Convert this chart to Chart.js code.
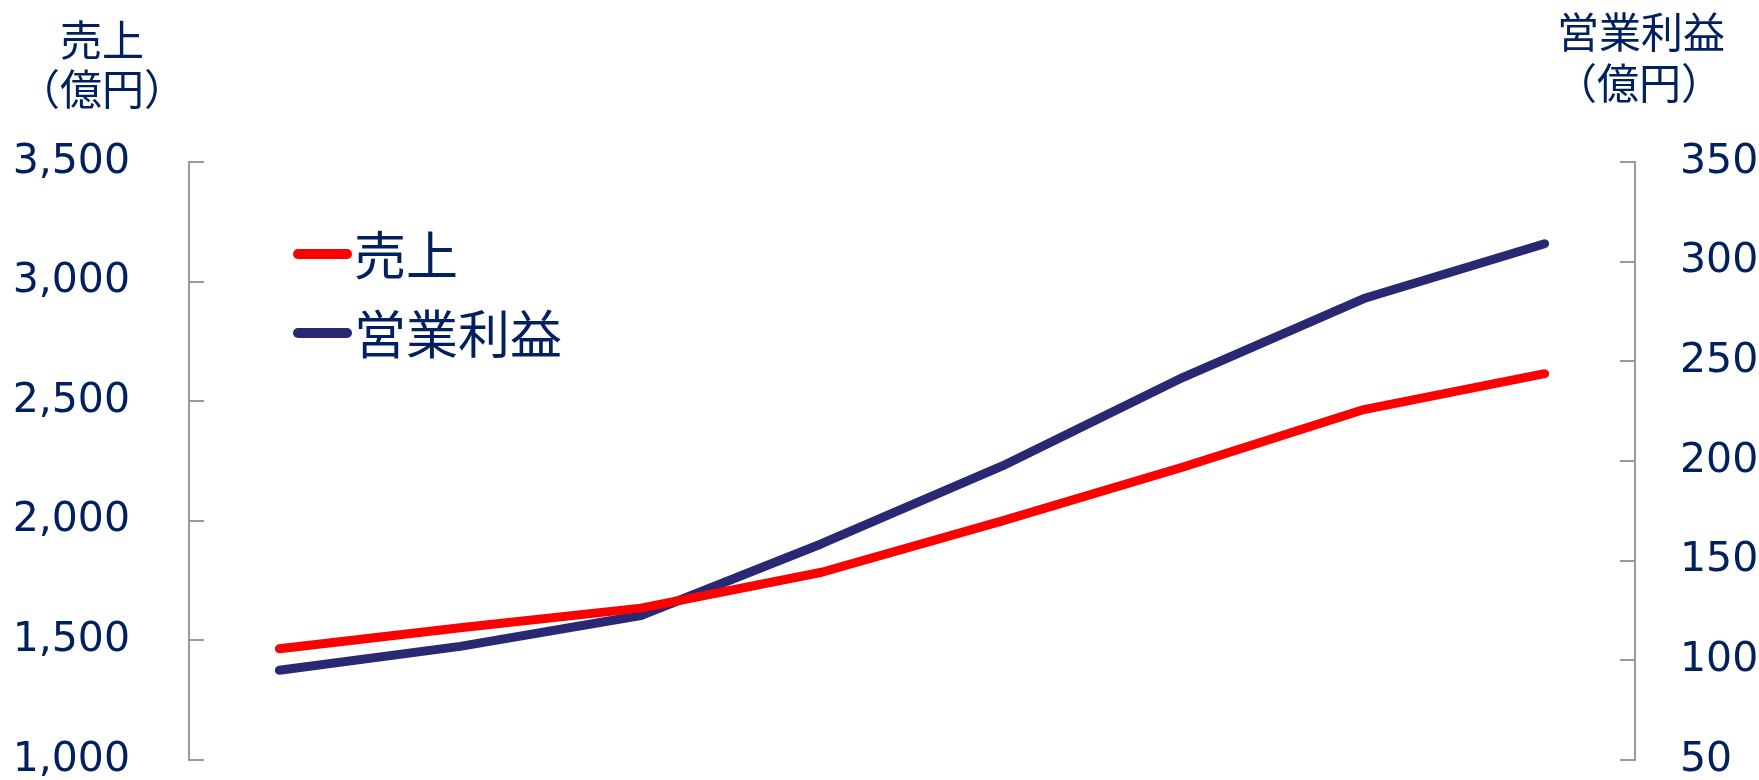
<!DOCTYPE html>
<html><head><meta charset="utf-8">
<script src="https://cdn.jsdelivr.net/npm/chart.js@4.4.0/dist/chart.umd.min.js"></script>
<style>html,body{margin:0;padding:0;background:#fff;} #wrap{position:relative;width:1759px;height:780px;}</style>
</head><body><div id="wrap"><canvas id="c" width="1759" height="780"></canvas></div>
<script>
const categories = ['P1','P2','P3','P4','P5','P6','P7','P8'];
const salesValues = [1465, 1553, 1635, 1785, 2000, 2225, 2465, 2615];
const profitValues = [95, 107, 122.5, 158.5, 197.5, 242, 281.5, 309];
const seriesNames = ['売上', '営業利益'];
const leftTickValues = [1000, 1500, 2000, 2500, 3000, 3500];
const leftTickLabels = ['1,000', '1,500', '2,000', '2,500', '3,000', '3,500'];
const rightTickValues = [50, 100, 150, 200, 250, 300, 350];
const rightTickLabels = ['50', '100', '150', '200', '250', '300', '350'];
const leftTitle = ['売上', '（億円）'];
const rightTitle = ['営業利益', '（億円）'];

const NAVY_TEXT = '#002060';
const AXIS_GREY = '#999999';
const RED = '#FF0000';
const NAVY_LINE = '#292873';
const CJK = '"Noto Sans CJK JP", sans-serif';

const extrasPlugin = {
  id: 'extras',
  beforeDatasetsDraw(chart) {
    const ctx = chart.ctx;
    const yL = chart.scales.yL, yR = chart.scales.yR;
    ctx.save();
    ctx.strokeStyle = AXIS_GREY; ctx.lineWidth = 2; ctx.lineCap = 'butt';
    yL.ticks.forEach(t => {
      const y = Math.round(yL.getPixelForValue(t.value));
      ctx.beginPath(); ctx.moveTo(yL.right, y); ctx.lineTo(yL.right + 15, y); ctx.stroke();
    });
    yR.ticks.forEach(t => {
      const y = Math.round(yR.getPixelForValue(t.value));
      ctx.beginPath(); ctx.moveTo(yR.left, y); ctx.lineTo(yR.left - 15, y); ctx.stroke();
    });
    ctx.restore();
  },
  afterDraw(chart) {
    const ctx = chart.ctx;
    ctx.save();
    ctx.fillStyle = NAVY_TEXT;
    ctx.textAlign = 'center'; ctx.textBaseline = 'middle';
    ctx.font = '42px ' + CJK;
    ctx.fillText(leftTitle[0], 102, 40);
    ctx.fillText(leftTitle[1], 102, 89);
    ctx.fillText(rightTitle[0], 1641, 32);
    ctx.fillText(rightTitle[1], 1639, 83);
    const items = [{y: 254, color: chart.data.datasets[0].borderColor, label: chart.data.datasets[0].label},
                   {y: 333, color: chart.data.datasets[1].borderColor, label: chart.data.datasets[1].label}];
    items.forEach(it => {
      ctx.strokeStyle = it.color; ctx.lineWidth = 10; ctx.lineCap = 'round';
      ctx.beginPath(); ctx.moveTo(298, it.y); ctx.lineTo(347, it.y); ctx.stroke();
      ctx.fillStyle = NAVY_TEXT; ctx.textAlign = 'left'; ctx.textBaseline = 'middle';
      ctx.font = '52px ' + CJK;
      ctx.fillText(it.label, 354, it.y + 1);
    });
    ctx.restore();
  }
};

function fixPad(scale) { scale.paddingTop = 0; scale.paddingBottom = 0; }

new Chart(document.getElementById('c'), {
  type: 'line',
  data: {
    labels: categories,
    datasets: [
      {label: seriesNames[0], data: salesValues, yAxisID: 'yL', borderColor: RED, backgroundColor: RED,
       borderWidth: 9, pointRadius: 0, tension: 0, borderCapStyle: 'round', borderJoinStyle: 'round', fill: false},
      {label: seriesNames[1], data: profitValues, yAxisID: 'yR', borderColor: NAVY_LINE, backgroundColor: NAVY_LINE,
       borderWidth: 9, pointRadius: 0, tension: 0, borderCapStyle: 'round', borderJoinStyle: 'round', fill: false}
    ]
  },
  options: {
    responsive: false, animation: false, devicePixelRatio: 1,
    layout: {padding: {top: 162, bottom: 20, left: 0, right: 0}},
    plugins: {legend: {display: false}, tooltip: {enabled: false}},
    scales: {
      x: {type: 'category', offset: true, display: false},
      yL: {
        position: 'left', min: 1000, max: 3500,
        afterBuildTicks(s) { s.ticks = leftTickValues.map(v => ({value: v})); },
        afterFit(s) { s.width = 189; fixPad(s); },
        grid: {display: true, drawOnChartArea: false, drawTicks: false},
        border: {display: true, color: AXIS_GREY, width: 2},
        ticks: {padding: 59, color: NAVY_TEXT, font: {family: '"DejaVu Sans", Verdana, sans-serif', size: 41},
          callback: (v) => leftTickLabels[leftTickValues.indexOf(v)]}
      },
      yR: {
        position: 'right', min: 50, max: 350,
        afterBuildTicks(s) { s.ticks = rightTickValues.map(v => ({value: v})); },
        afterFit(s) { s.width = 124; fixPad(s); },
        grid: {display: true, drawOnChartArea: false, drawTicks: false},
        border: {display: true, color: AXIS_GREY, width: 2},
        ticks: {padding: 45, color: NAVY_TEXT, font: {family: '"DejaVu Sans", Verdana, sans-serif', size: 41},
          callback: (v) => rightTickLabels[rightTickValues.indexOf(v)]}
      }
    }
  },
  plugins: [extrasPlugin]
});
</script></body></html>
